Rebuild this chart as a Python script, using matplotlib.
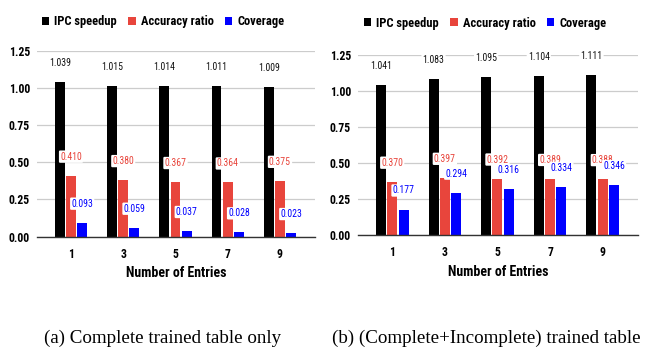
import matplotlib
matplotlib.use("Agg")
import matplotlib.pyplot as plt
import numpy as np

entries = ["1", "3", "5", "7", "9"]
series_names = ["IPC speedup", "Accuracy ratio", "Coverage"]
colors = ["#000000", "#e8453c", "#0000ff"]

left_ipc = [1.039, 1.015, 1.014, 1.011, 1.009]
left_acc = [0.410, 0.380, 0.367, 0.364, 0.375]
left_cov = [0.093, 0.059, 0.037, 0.028, 0.023]

right_ipc = [1.041, 1.083, 1.095, 1.104, 1.111]
right_acc = [0.370, 0.397, 0.392, 0.389, 0.388]
right_cov = [0.177, 0.294, 0.316, 0.334, 0.346]

yticks = [0.00, 0.25, 0.50, 0.75, 1.00, 1.25]
captions = ["(a) Complete trained table only", "(b) (Complete+Incomplete) trained table"]
xlabel = "Number of Entries"

sans = ["Liberation Sans Narrow", "Roboto Condensed", "Roboto", "DejaVu Sans"]
plt.rcParams["font.family"] = sans

fig = plt.figure(figsize=(6.52, 3.57), dpi=100)
W, H = 652, 357

def add_ax(l, r, b, t):
    return fig.add_axes([l / W, 1 - b / H, (r - l) / W, (b - t) / H])

axes = [add_ax(37, 315, 236.5, 51), add_ax(358, 638, 235, 55)]
datasets = [(left_ipc, left_acc, left_cov), (right_ipc, right_acc, right_cov)]
legend_pos = [(163, 22), (485, 23)]
caption_pos = [(163, 338), (486, 338)]

width = 0.19
offsets = [-0.215, 0.0, 0.215]
x = np.arange(len(entries))

for ax, data, lp, cp, cap in zip(axes, datasets, legend_pos, caption_pos, captions):
    handles = []
    for vals, off, col, name in zip(data, offsets, colors, series_names):
        bars = ax.bar(x + off, vals, width=width, color=col, label=name, zorder=3)
        handles.append(bars)
        for xi, v in zip(x + off, vals):
            ax.annotate(f"{v:.3f}", (xi, v), xytext=(0, 13.7), textcoords="offset points",
                        ha="center", va="center", fontsize=7, color=col if col != "#000000" else "#111111",
                        zorder=5,
                        bbox=dict(boxstyle="round,pad=0.12", fc="white", ec="none"))
    ax.set_ylim(0, 1.25)
    ax.set_xlim(-0.65, 4.67)
    ax.set_yticks(yticks)
    ax.set_yticklabels([f"{t:.2f}" for t in yticks], fontsize=8.5, fontweight="bold")
    ax.set_xticks(x)
    ax.set_xticklabels(entries, fontsize=8.5, fontweight="bold")
    ax.tick_params(axis="both", length=0)
    ax.tick_params(axis="x", pad=8)
    ax.tick_params(axis="y", pad=5)
    ax.grid(axis="y", color="#cccccc", linewidth=0.9, zorder=0)
    for s in ["top", "right", "left"]:
        ax.spines[s].set_visible(False)
    ax.spines["bottom"].set_color("#333333")
    ax.spines["bottom"].set_linewidth(1.0)
    ax.spines["bottom"].set_zorder(4)
    ax.set_xlabel(xlabel, fontsize=10, fontweight="bold", labelpad=4)
    fig.legend(handles=handles, labels=series_names, loc="center",
               bbox_to_anchor=(lp[0] / W, 1 - lp[1] / H), ncol=3, frameon=False,
               prop={"weight": "bold", "size": 9, "family": sans},
               handlelength=0.6, handleheight=0.6, handletextpad=0.4, columnspacing=0.9,
               borderaxespad=0)
    fig.text(cp[0] / W, 1 - cp[1] / H, cap, ha="center", va="center",
             fontsize=13.7, family=["Liberation Serif", "DejaVu Serif"])

fig.savefig("out.png", dpi=100)
